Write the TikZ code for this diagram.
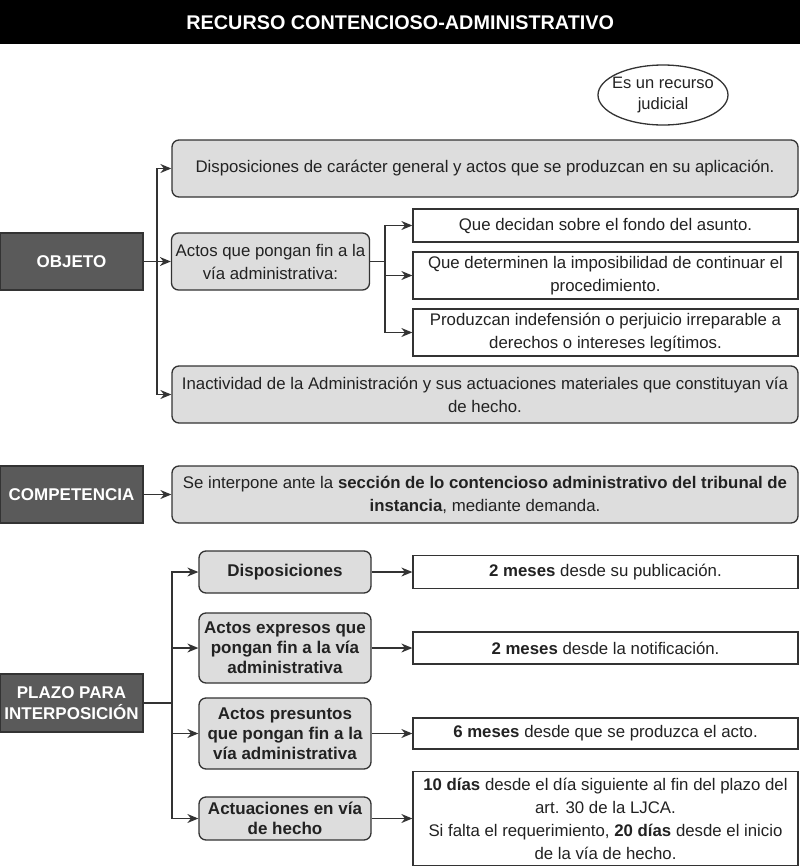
\documentclass[tikz,border=0pt]{standalone}
\usepackage{fontspec}
\setmainfont{Liberation Sans}
\usetikzlibrary{arrows.meta,shapes.geometric,positioning}

\definecolor{headfill}{HTML}{5A5A5A}
\definecolor{greyfill}{HTML}{DDDDDD}
\definecolor{edgecol}{HTML}{333333}
\definecolor{textcol}{HTML}{222222}

\begin{document}
\begin{tikzpicture}[x=1pt,y=-1pt]

\tikzset{
  every node/.style={font=\fontsize{16.8}{23}\selectfont, text=textcol},
  head/.style={draw=edgecol, fill=headfill, text=white, font=\bfseries\fontsize{17}{21}\selectfont,
    align=center, minimum width=143, minimum height=57, inner sep=0pt, line width=1.3pt},
  greybox/.style={draw=edgecol, fill=greyfill, rounded corners=7pt, align=center, inner sep=1pt, line width=1.3pt},
  plainbox/.style={draw=edgecol, fill=white, align=center, inner sep=1pt, line width=1.3pt},
  link/.style={draw=edgecol, line width=1.3pt, -{Stealth[length=11pt,width=9pt]}}
}

\useasboundingbox (0,0) rectangle (800,868);

\node[fill=black, text=white, font=\bfseries\fontsize{19.8}{22}\selectfont,
  minimum width=800, minimum height=44, anchor=north west, inner sep=0pt] (title) at (0,0)
  {RECURSO CONTENCIOSO-ADMINISTRATIVO};

\node[draw=edgecol, ellipse, line width=1.3pt, minimum width=130, minimum height=60,
  inner sep=0pt] (judicial) at (663,95) {};
\node[align=center, inner sep=0pt, font=\fontsize{16.5}{21}\selectfont] (judicialtext)
  at (judicial.center) {Es un recurso\\judicial};

% objeto
\node[head] (objeto) at (71.5,261.5) {OBJETO};
\node[greybox, minimum width=626, minimum height=57] (disp) at (485,168.5)
  {Disposiciones de carácter general y actos que se produzcan en su aplicación.};
\node[greybox, minimum width=198, minimum height=57] (actos) at (270.5,261.5)
  {Actos que pongan fin a la\\vía administrativa:};
\node[greybox, minimum width=626, minimum height=57] (inact) at (485,394.5)
  {Inactividad de la Administración y sus actuaciones materiales que constituyan vía\\de hecho.};

\node[plainbox, minimum width=385, minimum height=33] (fondo) at (605.5,225.5)
  {Que decidan sobre el fondo del asunto.};
\node[plainbox, minimum width=385, minimum height=47] (imposib) at (605.5,275.5)
  {Que determinen la imposibilidad de continuar el\\procedimiento.};
\node[plainbox, minimum width=385, minimum height=47] (indef) at (605.5,332.5)
  {Produzcan indefensión o perjuicio irreparable a\\derechos o intereses legítimos.};

\coordinate (otrunk) at (157,261.5);
\coordinate (atrunk) at (385,261.5);

\draw[link] (objeto.east) -- (actos.west);
\draw[link] (otrunk) |- (disp.west);
\draw[link] (otrunk) |- (inact.west);
\draw[edgecol, line width=1.3pt] (actos.east) -- (atrunk);
\foreach \n in {fondo,imposib,indef}
  \draw[link] (atrunk) |- (\n.west);

% competencia
\node[head] (compet) at (71.5,494.5) {COMPETENCIA};
\node[greybox, minimum width=626, minimum height=57] (sede) at (485,494.5)
  {Se interpone ante la \textbf{sección de lo contencioso administrativo del tribunal de}\\
   \textbf{instancia}, mediante demanda.};
\draw[link] (compet.east) -- (sede.west);

% plazo
\node[head, minimum height=58] (plazo) at (71.5,703) {PLAZO PARA\\INTERPOSICIÓN};
\coordinate (ptrunk) at (172,703);

\tikzset{every node/.append style={font=\bfseries\fontsize{17}{20}\selectfont}}
\node[greybox, minimum width=172, minimum height=42] (pdisp) at (285,572) {Disposiciones};
\node[greybox, minimum width=172, minimum height=70] (pexpr) at (285,648)
  {Actos expresos que\\pongan fin a la vía\\administrativa};
\node[greybox, minimum width=172, minimum height=71] (ppres) at (285,733.5)
  {Actos presuntos\\que pongan fin a la\\vía administrativa};
\node[greybox, minimum width=172, minimum height=43] (phecho) at (285,818.5)
  {Actuaciones en vía\\de hecho};
\tikzset{every node/.append style={font=\fontsize{16.8}{23}\selectfont}}

\node[plainbox, minimum width=385, minimum height=33] (rdisp) at (605.5,572)
  {\textbf{2 meses} desde su publicación.};
\node[plainbox, minimum width=385, minimum height=32] (rexpr) at (605.5,648)
  {\textbf{2 meses} desde la notificación.};
\node[plainbox, minimum width=385, minimum height=31] (rpres) at (605.5,733.5)
  {\textbf{6 meses} desde que se produzca el acto.};
\node[plainbox, minimum width=385, minimum height=94] (rhecho) at (605.5,818.5)
  {\textbf{10 días} desde el día siguiente al fin del plazo del\\art. 30 de la LJCA.\\
   Si falta el requerimiento, \textbf{20 días} desde el inicio\\de la vía de hecho.};

\draw[edgecol, line width=1.3pt] (plazo.east) -- (ptrunk);
\foreach \n/\m in {pdisp/rdisp,pexpr/rexpr,ppres/rpres,phecho/rhecho} {
  \draw[link] (ptrunk) |- (\n.west);
  \draw[link] (\n.east) -- (\m.west);
}

\end{tikzpicture}
\end{document}
